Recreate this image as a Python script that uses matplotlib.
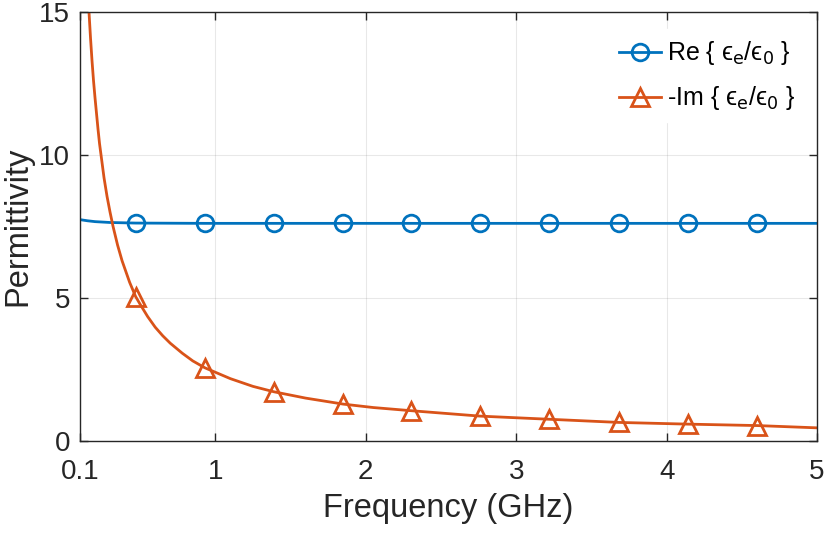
import numpy as np
import matplotlib
matplotlib.use("Agg")
import matplotlib.pyplot as plt

plt.rcParams['font.family'] = ['Liberation Sans', 'DejaVu Sans']
plt.rcParams['mathtext.fontset'] = 'dejavusans'

# values
re_freq = [0.1, 0.15, 0.2, 0.3, 0.47, 0.93, 1.39, 1.85, 2.30, 2.76, 3.22, 3.68, 4.14, 4.60, 5.0]
re_eps = [7.74, 7.70, 7.67, 7.64, 7.62, 7.61, 7.61, 7.61, 7.61, 7.61, 7.61, 7.61, 7.61, 7.61, 7.61]

im_freq = [0.12, 0.13, 0.14, 0.15, 0.16, 0.17, 0.18, 0.19, 0.2, 0.22, 0.23, 0.25, 0.26, 0.28,
           0.3, 0.32, 0.35, 0.38, 0.4, 0.43, 0.47, 0.5, 0.55, 0.6, 0.65, 0.7, 0.78, 0.85,
           0.93, 1.1, 1.25, 1.39, 1.6, 1.85, 2.05, 2.30, 2.76, 3.22, 3.68, 4.14, 4.60, 5.0]
im_eps = [20.0, 18.4, 17.1, 16.0, 15.0, 14.1, 13.3, 12.6, 12.0, 10.9, 10.4, 9.6, 9.2, 8.55,
          8.0, 7.5, 6.85, 6.3, 6.0, 5.55, 5.05, 4.78, 4.35, 3.98, 3.68, 3.42, 3.07, 2.8,
          2.56, 2.18, 1.91, 1.72, 1.5, 1.29, 1.17, 1.06, 0.87, 0.76, 0.65, 0.59, 0.54, 0.46]

marker_freq = [0.47, 0.93, 1.39, 1.85, 2.30, 2.76, 3.22, 3.68, 4.14, 4.60]

xticks = [0.1, 1, 2, 3, 4, 5]
xticklabels = ['0.1', '1', '2', '3', '4', '5']
yticks = [0, 5, 10, 15]

blue = '#0072BD'
orange = '#D95319'
axcol = '#262626'

fig = plt.figure(figsize=(8.27, 5.33), dpi=100)
ax = fig.add_axes([0.0967, 0.1726, 0.8913, 0.8049])

re_marks = list(np.nonzero(np.isin(re_freq, marker_freq))[0])
im_marks = list(np.nonzero(np.isin(im_freq, marker_freq))[0])

ax.plot(re_freq, re_eps, color=blue, lw=2, marker='o', ms=12, mfc='none',
        mew=2, markevery=re_marks, label='Re { \u03f5$_{\\rm e}$/\u03f5$_0$ }')
ax.plot(im_freq, im_eps, color=orange, lw=2, marker='^', ms=13, mfc='none',
        mew=2, markevery=im_marks, label='-Im { \u03f5$_{\\rm e}$/\u03f5$_0$ }')

ax.set_xlim(0.1, 5)
ax.set_ylim(0, 15)
ax.set_xticks(xticks)
ax.set_xticklabels(xticklabels)
ax.set_yticks(yticks)
ax.grid(True, color=axcol, alpha=0.1, lw=0.8)
ax.tick_params(direction='in', top=True, right=True, labelsize=20, colors=axcol,
               length=6, width=1)
ax.tick_params(axis='x', pad=13)
ax.tick_params(axis='y', pad=7)
for s in ax.spines.values():
    s.set_color(axcol)
    s.set_linewidth(1)

ax.set_xlabel('Frequency (GHz)', fontsize=23.5, color=axcol, labelpad=6)
ax.set_ylabel('Permittivity', fontsize=23.5, color=axcol, labelpad=4)

leg = ax.legend(loc='upper right', bbox_to_anchor=(1.008, 1.0), fontsize=18,
                frameon=True, fancybox=False, handlelength=1.7, handletextpad=0.25,
                borderaxespad=0.7, labelspacing=0.68)
leg.get_frame().set_edgecolor('white')
leg.get_frame().set_facecolor('white')
leg.get_frame().set_alpha(1)

fig.savefig('out.png', dpi=100)
